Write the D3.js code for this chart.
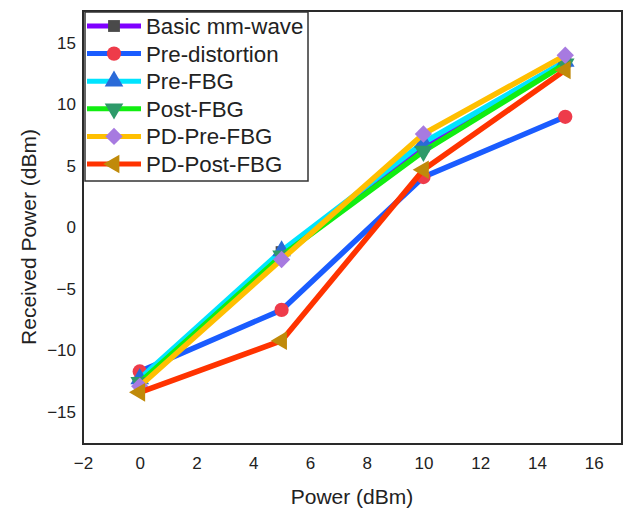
<!DOCTYPE html>
<html>
<head>
<meta charset="utf-8">
<script src="https://cdn.jsdelivr.net/npm/d3@7"></script>
<style>
  body { margin: 0; background: #fff; }
  svg { font-family: "Liberation Sans", Arial, sans-serif; }
</style>
</head>
<body>
<svg width="633" height="509"></svg>
<script>
  // data
  const power = [0, 5, 10, 15];
  const basicMmWave = [-12.6, -2.0, 6.6, 13.5];
  const preDistortion = [-11.7, -6.7, 4.1, 9.0];
  const preFbg = [-12.3, -1.9, 6.9, 13.5];
  const postFbg = [-12.6, -2.3, 6.2, 13.3];
  const pdPreFbg = [-12.9, -2.6, 7.6, 14.0];
  const pdPostFbg = [-13.4, -9.2, 4.7, 12.8];
  const seriesNames = ['Basic mm-wave', 'Pre-distortion', 'Pre-FBG', 'Post-FBG', 'PD-Pre-FBG', 'PD-Post-FBG'];
  const xTicks = [-2, 0, 2, 4, 6, 8, 10, 12, 14, 16];
  const yTicks = [-15, -10, -5, 0, 5, 10, 15];

  const lineColors = ['#7f00ff', '#1a5cff', '#00e4ff', '#11ee11', '#ffbf00', '#ff3300'];
  const markColors = ['#4a4a4a', '#ee3b4a', '#2a6ad8', '#2e9a6a', '#a77ae0', '#c08a0a'];
  // shape + rotation per series
  const marks = [
    {type: d3.symbolSquare, size: 140, rot: 0},
    {type: d3.symbolCircle, size: 160, rot: 0},
    {type: d3.symbolTriangle, size: 150, rot: 0},
    {type: d3.symbolTriangle, size: 150, rot: 180},
    {type: d3.symbolSquare, size: 150, rot: 45},
    {type: d3.symbolTriangle, size: 150, rot: -90}
  ];

  const values = [basicMmWave, preDistortion, preFbg, postFbg, pdPreFbg, pdPostFbg];
  const series = seriesNames.map((name, i) => ({
    name,
    points: power.map((p, j) => ({x: p, y: values[i][j]}))
  }));

  const svg = d3.select('svg');
  const mLeft = 83, mRight = 622, mTop = 11, mBottom = 444;

  const x = d3.scaleLinear().domain([-2, 17]).range([mLeft, mRight]);
  const y = d3.scaleLinear().domain([-17.6, 17.6]).range([mBottom, mTop]);

  const line = d3.line().x(d => x(d.x)).y(d => y(d.y));
  const symbol = d3.symbol();
  const fmt = d => d < 0 ? '\u2212' + Math.abs(d) : d;

  // axes (labels only, no tick marks)
  const xAxis = svg.append('g')
    .attr('transform', `translate(0,${mBottom})`)
    .call(d3.axisBottom(x).tickValues(xTicks).tickSize(0).tickPadding(13).tickFormat(fmt));
  const yAxis = svg.append('g')
    .attr('transform', `translate(${mLeft},0)`)
    .call(d3.axisLeft(y).tickValues(yTicks).tickSize(0).tickPadding(7).tickFormat(fmt));
  [xAxis, yAxis].forEach(a => {
    a.select('.domain').remove();
    a.selectAll('text').attr('font-size', 17).attr('fill', '#222')
      .attr('font-family', '"Liberation Sans", Arial, sans-serif');
  });

  // series lines and markers
  series.forEach((s, i) => {
    const g = svg.append('g');
    g.append('path')
      .datum(s.points)
      .attr('d', line)
      .attr('fill', 'none')
      .attr('stroke', lineColors[i])
      .attr('stroke-width', 5.5)
      .attr('stroke-linejoin', 'round');
    g.selectAll('path.mark').data(s.points).enter().append('path')
      .attr('class', 'mark')
      .attr('d', symbol.type(marks[i].type).size(marks[i].size)())
      .attr('transform', d => `translate(${x(d.x)},${y(d.y)}) rotate(${marks[i].rot})`)
      .attr('fill', markColors[i]);
  });

  // frame
  svg.append('rect')
    .attr('x', mLeft).attr('y', mTop)
    .attr('width', mRight - mLeft).attr('height', mBottom - mTop)
    .attr('fill', 'none').attr('stroke', '#2a2a2a').attr('stroke-width', 2);

  // legend
  const legend = svg.append('g');
  legend.append('rect')
    .attr('x', 85).attr('y', 12).attr('width', 223).attr('height', 169)
    .attr('fill', '#fff').attr('stroke', '#333').attr('stroke-width', 1.5);
  series.forEach((s, i) => {
    const ly = 26 + i * 27.6;
    legend.append('line')
      .attr('x1', 87).attr('x2', 141).attr('y1', ly).attr('y2', ly)
      .attr('stroke', lineColors[i]).attr('stroke-width', 5);
    legend.append('path')
      .attr('d', symbol.type(marks[i].type).size(marks[i].size)())
      .attr('transform', `translate(114,${ly}) rotate(${marks[i].rot})`)
      .attr('fill', markColors[i]);
    legend.append('text')
      .attr('x', 146).attr('y', ly).attr('dy', '0.36em')
      .attr('font-size', 22.3).attr('fill', '#222')
      .text(s.name);
  });

  // axis titles
  svg.append('text')
    .attr('x', 352).attr('y', 504)
    .attr('text-anchor', 'middle').attr('font-size', 21).attr('fill', '#222')
    .text('Power (dBm)');
  svg.append('text')
    .attr('transform', 'translate(36,237) rotate(-90)')
    .attr('text-anchor', 'middle').attr('font-size', 21).attr('fill', '#222')
    .text('Received Power (dBm)');
</script>
</body>
</html>
